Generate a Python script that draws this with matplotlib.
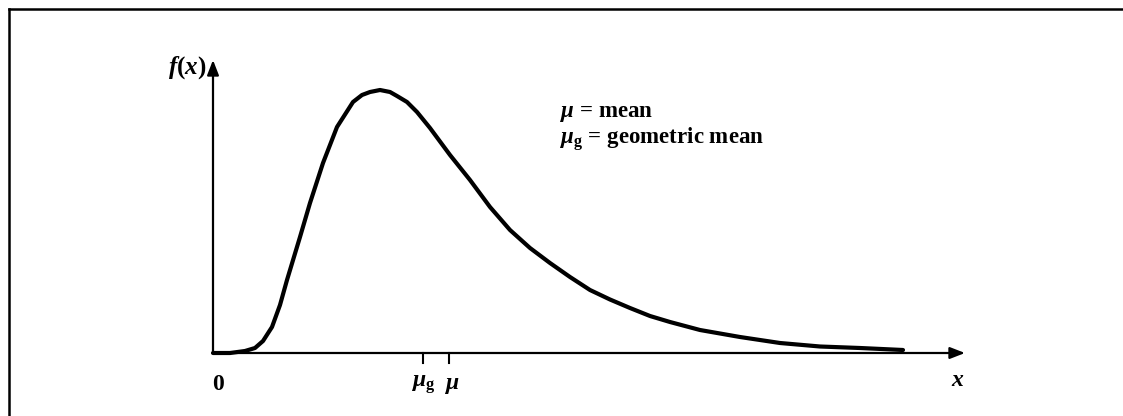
import matplotlib.pyplot as plt
from matplotlib.lines import Line2D

plt.rcParams['font.family'] = ['Liberation Serif', 'DejaVu Serif']
plt.rcParams['font.weight'] = 'bold'
plt.rcParams['mathtext.fontset'] = 'custom'
plt.rcParams['mathtext.rm'] = 'Liberation Serif:bold'
plt.rcParams['mathtext.it'] = 'Liberation Serif:italic:bold'
plt.rcParams['mathtext.bf'] = 'Liberation Serif:bold'

# curve (arbitrary units)
x_vals = [0.0, 0.34, 0.64, 0.84, 1.0, 1.18, 1.34, 1.48, 1.74, 1.94, 2.2, 2.48,
          2.8, 2.98, 3.14, 3.34, 3.54, 3.68, 3.88, 4.08, 4.34, 4.74, 5.14,
          5.54, 5.94, 6.34, 6.74, 7.14, 7.54, 7.94, 8.34, 8.74, 9.14, 9.74,
          10.54, 11.34, 12.14, 12.94, 13.8]
f_vals = [0.0, 0.0, 0.02, 0.05, 0.12, 0.26, 0.48, 0.73, 1.16, 1.50, 1.90, 2.26,
          2.51, 2.58, 2.61, 2.63, 2.61, 2.57, 2.51, 2.41, 2.25, 1.98, 1.73,
          1.46, 1.23, 1.05, 0.90, 0.76, 0.63, 0.535, 0.45, 0.37, 0.31, 0.23,
          0.16, 0.10, 0.065, 0.05, 0.03]
mu_g = 4.2
mu = 4.72
x_end = 15.04
y_end = 2.93

W, H = 1123, 416
fig = plt.figure(figsize=(W / 100, H / 100), dpi=100)
ax = fig.add_axes([213 / W, (H - 353) / H, (965 - 213) / W, (353 - 60) / H])
ax.set_xlim(0, x_end)
ax.set_ylim(0, y_end)
ax.axis('off')

# frame (only top and left edges show)
fig.add_artist(Line2D([9 / W, 1], [1 - 9 / H, 1 - 9 / H], color='black', lw=1.8))
fig.add_artist(Line2D([9 / W, 9 / W], [0, 1 - 9 / H], color='black', lw=1.8))

# axes with arrows
arrow = dict(arrowstyle='-|>,head_length=0.9,head_width=0.35', color='black',
             lw=1.6, shrinkA=0, shrinkB=0)
ax.annotate('', xy=(x_end, 0), xytext=(0, 0), arrowprops=arrow, annotation_clip=False)
ax.annotate('', xy=(0, y_end), xytext=(0, 0), arrowprops=arrow, annotation_clip=False)

ax.plot(x_vals, f_vals, color='black', lw=3.0, solid_joinstyle='round',
        solid_capstyle='round', clip_on=False)

# tick marks at the means
for xm in (mu_g, mu):
    ax.plot([xm, xm], [0, -0.1], color='black', lw=1.5, clip_on=False)

fs = 17
ax.text(0.1, -0.32, '0', fontsize=fs, ha='center', va='center')
ax.text(mu_g, -0.32, r'$\mu_{\mathrm{g}}$', fontsize=fs, ha='center', va='center')
ax.text(mu + 0.05, -0.32, r'$\mu$', fontsize=fs, ha='center', va='center')
ax.text(14.9, -0.27, r'$x$', fontsize=fs, ha='center', va='center')
ax.text(-0.52, 2.85, r'$f(x)$', fontsize=18, ha='center', va='center')

ax.text(6.95, 2.40, r'$\mu$ = mean', fontsize=16.5, ha='left', va='center')
ax.text(6.95, 2.14, r'$\mu_{\mathrm{g}}$ = geometric mean', fontsize=16.5, ha='left', va='center')

fig.savefig('out.png', dpi=100)
